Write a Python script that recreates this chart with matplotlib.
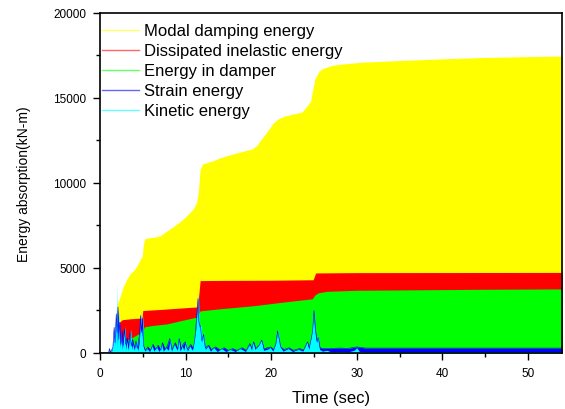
import matplotlib
matplotlib.use("Agg")
import matplotlib.pyplot as plt
from matplotlib.ticker import MultipleLocator

plt.rcParams["font.family"] = ["Liberation Sans", "DejaVu Sans"]

# cumulative energy boundaries (time in sec, energy in kN-m)
modal_t = [0, 1.0, 1.5, 1.9, 2.05, 2.4, 2.7, 3.0, 3.5, 3.9, 4.3, 4.7, 4.95, 5.05, 5.2,
           5.6, 6.3, 7.0, 7.8, 8.5, 9.3, 10.0, 10.9, 11.3, 11.5, 11.7, 12.0, 13.2, 14.0,
           15.5, 17.0, 17.8, 18.3, 18.9, 19.5, 20.2, 20.8, 21.6, 23.0, 23.6, 24.2, 24.6,
           24.9, 25.1, 25.5, 25.9, 27.0, 28.0, 30.6, 35.0, 40.0, 45.0, 50.0, 54.0]
modal_e = [0, 0, 400, 2200, 2900, 3400, 3880, 4200, 4650, 4830, 5100, 5500, 5700, 6300, 6700,
           6760, 6800, 6880, 7170, 7400, 7700, 8000, 8470, 8880, 9500, 10820, 11120, 11300, 11470,
           11700, 11900, 12000, 12200, 12600, 13000, 13500, 13760, 13940, 14100, 14170, 14530, 14800,
           15600, 16100, 16500, 16700, 16900, 16980, 17100, 17200, 17300, 17380, 17430, 17460]

inelastic_t = [0, 1.5, 1.9, 2.2, 2.3, 2.6, 3.5, 4.9, 5.0, 7.0, 9.0, 11.3, 11.5, 11.7,
               14.0, 20.0, 24.9, 25.2, 30.0, 54.0]
inelastic_e = [0, 0, 1000, 1700, 1820, 1950, 2000, 2050, 2490, 2550, 2620, 2700, 3200, 4250,
               4260, 4270, 4300, 4700, 4720, 4730]

damper_t = [0, 1.5, 2.0, 2.9, 3.9, 4.9, 5.2, 6.0, 7.8, 9.5, 11.3, 11.5, 11.7, 14.0, 18.1,
            21.3, 24.8, 25.1, 25.5, 26.5, 30.0, 35.0, 40.0, 45.0, 54.0]
damper_e = [0, 0, 300, 700, 940, 1230, 1530, 1600, 1700, 1900, 2100, 2300, 2470, 2590, 2780,
            2980, 3180, 3400, 3530, 3620, 3680, 3700, 3720, 3740, 3760]

strain_t = [0, 1.0, 1.1, 1.2, 1.5, 1.65, 1.75, 1.9, 2.0, 2.1, 2.2, 2.3, 2.45, 2.6, 2.7,
            2.85, 3.0, 3.2, 3.35, 3.5, 3.65, 3.8, 4.0, 4.2, 4.35, 4.6, 4.75, 4.85, 4.95,
            5.1, 5.3, 5.6, 5.9, 6.2, 6.5, 6.8, 7.1, 7.3, 7.6, 7.9, 8.15, 8.4, 8.8, 9.1,
            9.25, 9.5, 9.7, 9.95, 10.2, 10.6, 10.9, 11.1, 11.3, 11.45, 11.55, 11.75, 11.9,
            12.1, 12.3, 12.7, 13.0, 13.5, 14.0, 14.5, 15.0, 15.5, 16.0, 16.6, 17.1, 17.5,
            17.75, 17.95, 18.2, 18.6, 18.9, 19.15, 19.6, 19.95, 20.3, 20.55, 20.75, 20.9,
            21.1, 21.5, 22.1, 22.6, 23.3, 23.8, 24.05, 24.25, 24.45, 24.65, 24.85, 25.0,
            25.15, 25.35, 25.5, 25.7, 26.0, 27.0, 28.0, 29.0, 30.0, 31.0, 35.0, 40.0,
            45.0, 50.0, 54.0]
strain_e = [0, 0, 250, 30, 300, 1500, 600, 2300, 1200, 2700, 800, 1800, 500, 1300, 400,
            1400, 500, 900, 300, 1200, 400, 800, 300, 700, 250, 1000, 2200, 1200, 2000,
            400, 150, 350, 150, 500, 200, 450, 150, 600, 200, 450, 850, 200, 600, 200,
            850, 200, 500, 650, 200, 500, 250, 900, 2200, 3200, 1800, 1500, 700,
            1100, 300, 450, 200, 350, 180, 300, 150, 250, 150, 300, 150, 550,
            250, 650, 250, 450, 750, 250, 300, 350, 200, 550, 1300, 900,
            350, 200, 300, 150, 250, 180, 450, 650, 300, 750, 1300, 2500,
            1400, 700, 900, 300, 250, 260, 280, 260, 350, 280, 280, 280,
            280, 280, 280]

kinetic_t = [0, 1.0, 1.1, 1.2, 1.4, 1.6, 1.7, 1.8, 1.85, 1.95, 2.0, 2.08, 2.15, 2.25, 2.35,
             2.5, 2.6, 2.75, 2.9, 3.0, 3.15, 3.3, 3.45, 3.6, 3.7, 3.85, 4.0, 4.15, 4.3, 4.4,
             4.55, 4.7, 4.8, 4.9, 5.0, 5.1, 5.25, 5.5, 5.8, 6.1, 6.3, 6.6, 6.9, 7.2, 7.4,
             7.7, 8.0, 8.2, 8.35, 8.7, 9.0, 9.2, 9.35, 9.6, 9.8, 10.0, 10.2, 10.5, 10.8,
             11.0, 11.2, 11.35, 11.5, 11.6, 11.8, 11.95, 12.1, 12.3, 12.6, 12.9, 13.3, 13.7,
             14.2, 14.7, 15.2, 15.8, 16.4, 17.0, 17.5, 17.7, 17.9, 18.1, 18.5, 18.9, 19.1,
             19.5, 19.9, 20.2, 20.5, 20.65, 20.8, 20.95, 21.1, 21.4, 22.0, 22.5, 23.2, 23.7,
             24.0, 24.2, 24.4, 24.6, 24.8, 24.95, 25.1, 25.3, 25.5, 25.65, 26.0, 26.5, 27.0,
             28.0, 29.0, 29.7, 30.0, 30.3, 31.0, 35.0, 40.0, 45.0, 54.0]
kinetic_e = [0, 0, 320, 20, 150, 900, 1800, 400, 2670, 300, 4150, 600, 1500, 2440, 300,
             1200, 200, 900, 1560, 200, 700, 150, 1000, 1380, 200, 600, 150, 500, 800, 100,
             500, 1500, 2460, 800, 2300, 300, 100, 250, 80, 400, 100, 350, 80, 500, 100,
             300, 150, 900, 100, 500, 150, 900, 100, 400, 150, 700, 100, 400, 150,
             800, 1400, 2500, 3600, 1500, 1700, 600, 1300, 200, 400, 100, 300, 80,
             250, 80, 200, 80, 250, 80, 500, 150, 700, 200, 400, 790, 150,
             200, 310, 100, 500, 900, 1380, 700, 300, 100, 250, 80, 200, 100,
             400, 700, 200, 800, 1400, 2600, 1500, 600, 990, 200, 100, 150, 60,
             80, 60, 150, 300, 80, 60, 50, 50, 50, 50]

labels = ["Modal damping energy", "Dissipated inelastic energy", "Energy in damper",
          "Strain energy", "Kinetic energy"]
colors = ["#ffff00", "#ff0000", "#00ff00", "#0000ff", "#00ffff"]


def main():
    fig = plt.figure(figsize=(5.65, 4.10), dpi=100)
    ax = fig.add_axes([0.177, 0.137, 0.818, 0.829])

    ax.fill_between(modal_t, modal_e, color=colors[0], lw=0)
    ax.fill_between(inelastic_t, inelastic_e, color=colors[1], lw=0)
    ax.fill_between(damper_t, damper_e, color=colors[2], lw=0)
    ax.fill_between(strain_t, strain_e, color=colors[3], lw=0)
    ax.fill_between(kinetic_t, kinetic_e, color=colors[4], lw=0)
    ax.plot(strain_t, strain_e, color=colors[3], lw=0.4)

    handles = [plt.Line2D([], [], color=c, lw=1.0, alpha=0.6) for c in colors]
    ax.legend(handles, labels, loc="upper left", bbox_to_anchor=(0.004, 0.969),
              frameon=False, fontsize=12, handlelength=2.2, handletextpad=0.35,
              labelspacing=0.3, borderaxespad=0, borderpad=0)

    ax.set_xlim(0, 54)
    ax.set_ylim(0, 20000)
    ax.xaxis.set_major_locator(MultipleLocator(10))
    ax.xaxis.set_minor_locator(MultipleLocator(5))
    ax.yaxis.set_major_locator(MultipleLocator(5000))
    ax.yaxis.set_minor_locator(MultipleLocator(2500))
    ax.tick_params(which="both", direction="out", labelsize=8.5, width=1.0)
    ax.tick_params(which="major", length=5, pad=5)
    ax.tick_params(which="minor", length=3)
    for s in ax.spines.values():
        s.set_linewidth(1.2)

    ax.set_xlabel("Time (sec)", fontsize=12, labelpad=8)
    ax.set_ylabel("Energy absorption(kN-m)", fontsize=10, labelpad=16)

    fig.savefig("out.png", dpi=100)
    plt.close(fig)


if __name__ == "__main__":
    main()
